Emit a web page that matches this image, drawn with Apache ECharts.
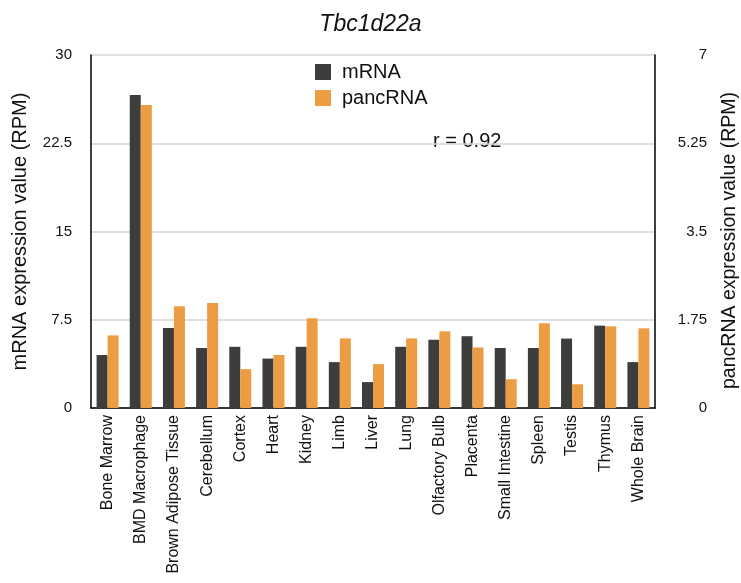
<!DOCTYPE html>
<html>
<head>
<meta charset="utf-8">
<script src="https://cdn.jsdelivr.net/npm/echarts@6/dist/echarts.min.js"></script>
<style>
  html, body { margin: 0; padding: 0; background: #fff; }
  #chart { width: 741px; height: 583px; }
</style>
</head>
<body>
<div id="chart"></div>
<script>
// Tissues along the x axis
var tissues = [
  'Bone Marrow', 'BMD Macrophage', 'Brown Adipose Tissue', 'Cerebellum', 'Cortex',
  'Heart', 'Kidney', 'Limb', 'Liver', 'Lung', 'Olfactory Bulb', 'Placenta',
  'Small Intestine', 'Spleen', 'Testis', 'Thymus', 'Whole Brain'
];

// mRNA expression (RPM), left axis
var mrnaValues = [4.5, 26.6, 6.8, 5.1, 5.2, 4.2, 5.2, 3.9, 2.2, 5.2, 5.8, 6.1, 5.1, 5.1, 5.9, 7.0, 3.9];

// pancRNA expression (RPM), right axis
var pancValues = [1.44, 6.01, 2.02, 2.08, 0.77, 1.05, 1.78, 1.38, 0.87, 1.38, 1.52, 1.20, 0.57, 1.68, 0.47, 1.62, 1.58];

// Axis ticks
var leftTicks = { min: 0, max: 30, interval: 7.5 };
var rightTicks = { min: 0, max: 7, interval: 1.75 };

var geneName = 'Tbc1d22a';
var correlationText = 'r = 0.92';

var FONT = 'Liberation Sans, Arial, Helvetica, sans-serif';

var chart = echarts.init(document.getElementById('chart'));

chart.setOption({
  backgroundColor: '#ffffff',
  animation: false,
  textStyle: { fontFamily: FONT, color: '#111' },
  title: {
    text: geneName,
    left: 'center',
    top: 8,
    textStyle: { fontFamily: FONT, fontStyle: 'italic', fontWeight: 'normal', fontSize: 23, color: '#111' }
  },
  legend: {
    orient: 'vertical',
    left: 310,
    top: 57,
    itemWidth: 16,
    itemHeight: 16,
    itemGap: 6,
    icon: 'rect',
    textStyle: { fontFamily: FONT, fontSize: 20, color: '#111', padding: [0, 0, 0, 6] },
    data: ['mRNA', 'pancRNA']
  },
  grid: { left: 91, right: 86, top: 55, bottom: 175, outerBoundsMode: 'none', containLabel: false },
  xAxis: {
    type: 'category',
    data: tissues,
    axisLine: { show: true, lineStyle: { color: '#000', width: 1.5 } },
    axisTick: { show: false },
    axisLabel: {
      rotate: 90,
      margin: 7,
      fontSize: 16,
      color: '#111',
      fontFamily: FONT,
      interval: 0
    }
  },
  yAxis: [
    {
      type: 'value',
      min: leftTicks.min,
      max: leftTicks.max,
      interval: leftTicks.interval,
      name: 'mRNA expression value (RPM)',
      nameLocation: 'middle',
      nameGap: 61,
      nameRotate: 90,
      nameTextStyle: { fontFamily: FONT, fontSize: 20, color: '#111' },
      axisLine: { show: true, lineStyle: { color: '#000', width: 1.5 } },
      axisTick: { show: false },
      axisLabel: { fontSize: 15, color: '#111', fontFamily: FONT, margin: 19 },
      splitLine: { show: true, lineStyle: { color: '#d6d6d6', width: 1.5 } }
    },
    {
      type: 'value',
      position: 'right',
      min: rightTicks.min,
      max: rightTicks.max,
      interval: rightTicks.interval,
      name: 'pancRNA expression value (RPM)',
      nameLocation: 'middle',
      nameGap: 65,
      nameRotate: 90,
      nameTextStyle: { fontFamily: FONT, fontSize: 19.5, color: '#111', padding: [0, 18, 0, 0] },
      axisLine: { show: true, lineStyle: { color: '#000', width: 1.5 } },
      axisTick: { show: false },
      axisLabel: { fontSize: 15, color: '#111', fontFamily: FONT, margin: 52, align: 'right' },
      splitLine: { show: false }
    }
  ],
  graphic: [
    {
      type: 'text',
      left: 433,
      top: 131,
      style: { text: correlationText, fontFamily: FONT, fontSize: 20, fill: '#111' }
    }
  ],
  series: [
    {
      name: 'mRNA',
      type: 'bar',
      yAxisIndex: 0,
      data: mrnaValues,
      barWidth: 11,
      barGap: '0%',
      itemStyle: { color: '#3d3d3d' }
    },
    {
      name: 'pancRNA',
      type: 'bar',
      yAxisIndex: 1,
      data: pancValues,
      barWidth: 11,
      barGap: '0%',
      itemStyle: { color: '#ec9c42' }
    }
  ]
});
</script>
</body>
</html>
